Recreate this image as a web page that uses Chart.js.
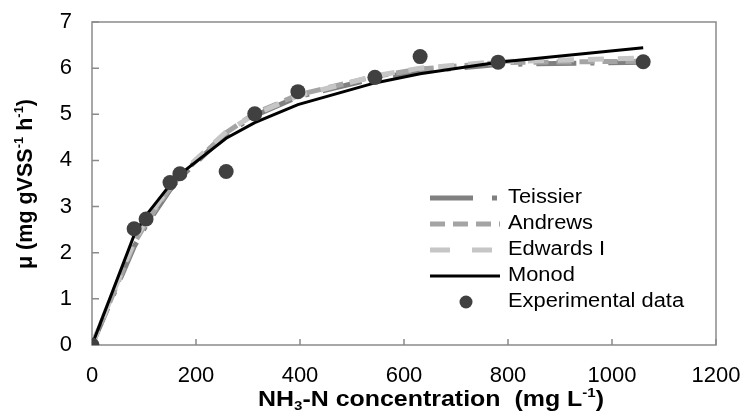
<!DOCTYPE html>
<html>
<head>
<meta charset="utf-8">
<script src="https://cdn.jsdelivr.net/npm/chart.js@4.4.1/dist/chart.umd.min.js"></script>
<style>
  body { margin: 0; background: #fff; }
</style>
</head>
<body>
<canvas id="chart" width="745" height="414"></canvas>
<script>
// NH3-N concentration (mg/L) of each batch
const concentration = [0, 81, 104, 150, 169, 258, 313, 396, 544, 631, 781, 1060];
// measured growth rate
const experimental = [0, 2.52, 2.73, 3.52, 3.71, 3.76, 5.01, 5.49, 5.80, 6.25, 6.13, 6.14];
// fitted models at the same concentrations
const teissier = [0, 2.13, 2.59, 3.36, 3.62, 4.57, 4.97, 5.38, 5.78, 5.93, 6.08, 6.13];
const andrews = [0, 2.20, 2.64, 3.40, 3.66, 4.60, 5.02, 5.42, 5.82, 5.98, 6.12, 6.15];
const edwards = [0, 2.25, 2.70, 3.44, 3.70, 4.62, 5.00, 5.40, 5.83, 6.00, 6.14, 6.22];
const monod = [0, 2.38, 2.81, 3.47, 3.70, 4.48, 4.82, 5.21, 5.68, 5.88, 6.13, 6.44];

const xTicks = [0, 200, 400, 600, 800, 1000, 1200];
const yTicks = [0, 1, 2, 3, 4, 5, 6, 7];

const FONT = "'Liberation Sans', Arial, sans-serif";

function toPoints(ys) {
    return concentration.map((x, i) => ({ x: x, y: ys[i] }));
}

// draws text parts like [['NH'], ['3', 'sub'], ...] centred on x,y
// stretch widens the text a little, the original picture is wider than tall
function drawRich(ctx, parts, x, y, size, stretch) {
    const small = Math.round(size * 0.62);
    let total = 0;
    parts.forEach(p => {
        ctx.font = 'bold ' + (p[1] ? small : size) + 'px ' + FONT;
        total += ctx.measureText(p[0]).width;
    });
    ctx.save();
    ctx.translate(x, y);
    ctx.scale(stretch, 1);
    let cx = -total / 2;
    ctx.textBaseline = 'middle';
    ctx.textAlign = 'left';
    parts.forEach(p => {
        ctx.font = 'bold ' + (p[1] ? small : size) + 'px ' + FONT;
        let dy = 0;
        if (p[1] === 'sub') dy = size * 0.3;
        if (p[1] === 'sup') dy = -size * 0.3;
        ctx.fillText(p[0], cx, dy);
        cx += ctx.measureText(p[0]).width;
    });
    ctx.restore();
}

const framePlugin = {
    id: 'frame',
    beforeDatasetsDraw(chart) {
        const { ctx, chartArea: a, scales } = chart;
        ctx.save();
        ctx.strokeStyle = '#8a8a8a';
        ctx.lineWidth = 1.5;
        ctx.strokeRect(a.left, a.top, a.right - a.left, a.bottom - a.top);
        ctx.beginPath();
        xTicks.forEach(v => {
            const px = scales.x.getPixelForValue(v);
            ctx.moveTo(px, a.bottom);
            ctx.lineTo(px, a.bottom - 6);
        });
        yTicks.forEach(v => {
            const py = scales.y.getPixelForValue(v);
            ctx.moveTo(a.left, py);
            ctx.lineTo(a.left + 7, py);
        });
        ctx.stroke();
        ctx.restore();
    },
    afterDraw(chart) {
        const { ctx } = chart;
        ctx.save();
        ctx.fillStyle = '#000';
        drawRich(ctx, [['NH'], ['3', 'sub'], ['-N concentration  (mg L'], ['-1', 'sup'], [')']], 431, 400, 21.5, 1.16);
        ctx.translate(26, 184);
        ctx.rotate(-Math.PI / 2);
        drawRich(ctx, [['\u03bc (mg gVSS'], ['-1', 'sup'], [' h'], ['-1', 'sup'], [')']], 0, 0, 21.5, 1);
        ctx.restore();

        // legend inside the plot
        ctx.save();
        const x0 = 430, x1 = 500, tx = 508;
        chart.data.datasets.slice().sort((a, b) => a.legendRank - b.legendRank).forEach((ds, i) => {
            const y = 198 + i * 26;
            if (ds.showLine) {
                ctx.strokeStyle = ds.borderColor;
                ctx.lineWidth = ds.borderWidth;
                ctx.setLineDash(ds.legendDash || []);
                ctx.beginPath();
                ctx.moveTo(x0, y);
                ctx.lineTo(x1, y);
                ctx.stroke();
            } else {
                ctx.fillStyle = ds.backgroundColor;
                ctx.beginPath();
                ctx.arc(466, y, 6.5, 0, Math.PI * 2);
                ctx.fill();
            }
            ctx.save();
            ctx.translate(tx, y);
            ctx.scale(1.12, 1);
            ctx.fillStyle = '#000';
            ctx.font = '19.5px ' + FONT;
            ctx.textBaseline = 'middle';
            ctx.textAlign = 'left';
            ctx.fillText(ds.label, 0, 0);
            ctx.restore();
        });
        ctx.restore();
    }
};

new Chart(document.getElementById('chart'), {
    type: 'scatter',
    data: {
        datasets: [
            {
                label: 'Experimental data', data: toPoints(experimental), order: 0, legendRank: 4,
                showLine: false, pointRadius: 7.5, backgroundColor: '#404040', borderColor: '#404040', pointBorderWidth: 0
            },
            {
                label: 'Monod', data: toPoints(monod), order: 1, legendRank: 3,
                showLine: true, borderColor: '#000', borderWidth: 3, pointRadius: 0
            },
            {
                label: 'Edwards I', data: toPoints(edwards), order: 2, legendRank: 2,
                showLine: true, borderColor: '#c6c6c6', borderWidth: 5, pointRadius: 0,
                borderDash: [16, 14], legendDash: [20, 22]
            },
            {
                label: 'Andrews', data: toPoints(andrews), order: 3, legendRank: 1,
                showLine: true, borderColor: '#a4a4a4', borderWidth: 5, pointRadius: 0,
                borderDash: [15, 8], legendDash: [15, 8]
            },
            {
                label: 'Teissier', data: toPoints(teissier), order: 4, legendRank: 0,
                showLine: true, borderColor: '#808080', borderWidth: 5, pointRadius: 0,
                borderDash: [40, 14, 4, 14], legendDash: [43, 19, 5, 10]
            }
        ]
    },
    options: {
        responsive: false,
        animation: false,
        layout: { padding: { left: 0, right: 29, top: 22, bottom: 0 } },
        plugins: { legend: { display: false }, tooltip: { enabled: false } },
        scales: {
            x: {
                type: 'linear', min: 0, max: 1200,
                afterBuildTicks(scale) { scale.ticks = xTicks.map(v => ({ value: v })); },
                afterFit(scale) {
                    scale.height = 69;
                    scale.paddingLeft = 0;
                    scale.paddingRight = 0;
                },
                grid: { display: false, drawTicks: false },
                border: { display: false },
                ticks: {
                    color: '#000', padding: 18, maxRotation: 0, font: { family: FONT, size: 22 },
                    callback: v => String(v)
                }
            },
            y: {
                type: 'linear', min: 0, max: 7,
                afterBuildTicks(scale) { scale.ticks = yTicks.map(v => ({ value: v })); },
                afterFit(scale) {
                    scale.width = 92;
                    scale.paddingTop = 0;
                    scale.paddingBottom = 0;
                },
                grid: { display: false, drawTicks: false },
                border: { display: false },
                ticks: { color: '#000', padding: 20, font: { family: FONT, size: 22 } }
            }
        }
    },
    plugins: [framePlugin]
});
</script>
</body>
</html>
